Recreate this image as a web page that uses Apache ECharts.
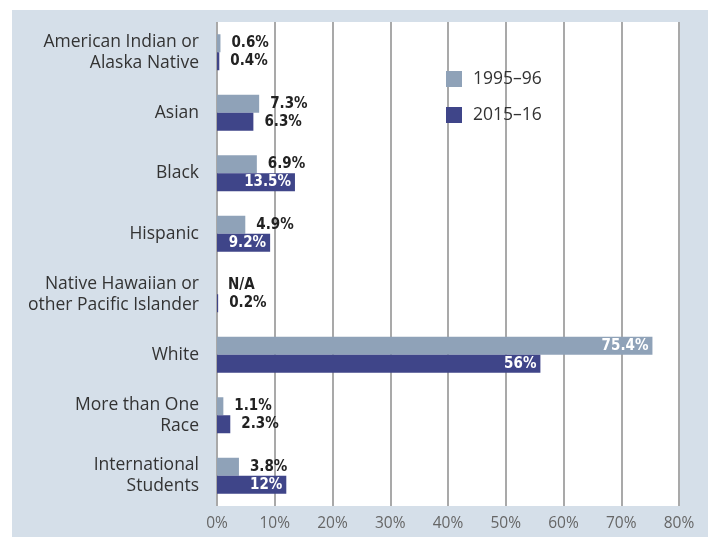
<!DOCTYPE html>
<html><head><meta charset="utf-8">
<script src="https://cdn.jsdelivr.net/npm/echarts@6/dist/echarts.min.js"></script>
<style>html,body{margin:0;padding:0;background:#fff}#c{width:711px;height:537px}</style>
</head><body><div id="c"></div>
<script>
const categories = ["American Indian or\nAlaska Native","Asian","Black","Hispanic","Native Hawaiian or\nother Pacific Islander","White","More than One\nRace","International\nStudents"];
const values1995 = [0.6, 7.3, 6.9, 4.9, null, 75.4, 1.1, 3.8];
const values2015 = [0.4, 6.3, 13.5, 9.2, 0.2, 56, 2.3, 12];
const labels1995 = ["0.6%","7.3%","6.9%","4.9%","N/A","75.4%","1.1%","3.8%"];
const labels2015 = ["0.4%","6.3%","13.5%","9.2%","0.2%","56%","2.3%","12%"];
const xTicks = [0,10,20,30,40,50,60,70,80];
const seriesNames = ["1995–96","2015–16"];
const insideThreshold = 9;

const labelFont = {fontFamily:"'DejaVu Sans Condensed', sans-serif", fontWeight:'bold', fontSize:15};
function makeData(vals, labs){
  return vals.map((v,i)=>{
    const inside = v!=null && v>insideThreshold;
    return {value: v==null?0:v, label:Object.assign({show:true, formatter:labs[i], position: inside?'insideRight':'right', distance: inside?4:11, color: inside?'#ffffff':'#222222'}, labelFont)};
  });
}
const chart = echarts.init(document.getElementById('c'), null, {renderer:'canvas'});
chart.setOption({
  animation:false,
  backgroundColor:'#ffffff',
  graphic:[{type:'rect', z:-10, shape:{x:12,y:10,width:696,height:527}, style:{fill:'#d5dfe9'}}],
  grid:{left:217, right:32, top:22, bottom:31, show:true, backgroundColor:'#ffffff', borderWidth:0},
  legend:{show:true, orient:'vertical', left:446, top:70, padding:0, itemWidth:16, itemHeight:16, itemGap:18, icon:'rect',
    textStyle:{fontFamily:"'Open Sans', 'Noto Sans', sans-serif", fontSize:17.5, color:'#333', padding:[0,0,0,6]},
    data:seriesNames},
  xAxis:{type:'value', min:0, max:80, interval:10,
    axisLine:{show:false}, axisTick:{show:false},
    splitLine:{show:true, lineStyle:{color:'#a9a9a9', width:2}},
    axisLabel:{formatter: v=> xTicks.includes(v)? v+'%':'', color:'#666', fontFamily:"'Open Sans', 'Noto Sans', sans-serif", fontSize:15.5, margin:10}},
  yAxis:{type:'category', data:categories, inverse:true,
    axisLine:{show:false}, axisTick:{show:false},
    axisLabel:{color:'#333', fontFamily:"'Open Sans', 'Noto Sans', sans-serif", fontSize:17.5, lineHeight:21, margin:18, align:'right', padding:[5,0,0,0]}},
  series:[
    {name:seriesNames[0], type:'bar', data:makeData(values1995, labels1995), barWidth:18, barGap:'0%', itemStyle:{color:'#8fa2b8'}},
    {name:seriesNames[1], type:'bar', data:makeData(values2015, labels2015), barWidth:18, barGap:'0%', itemStyle:{color:'#3f4589'}}
  ]
});
</script></body></html>
